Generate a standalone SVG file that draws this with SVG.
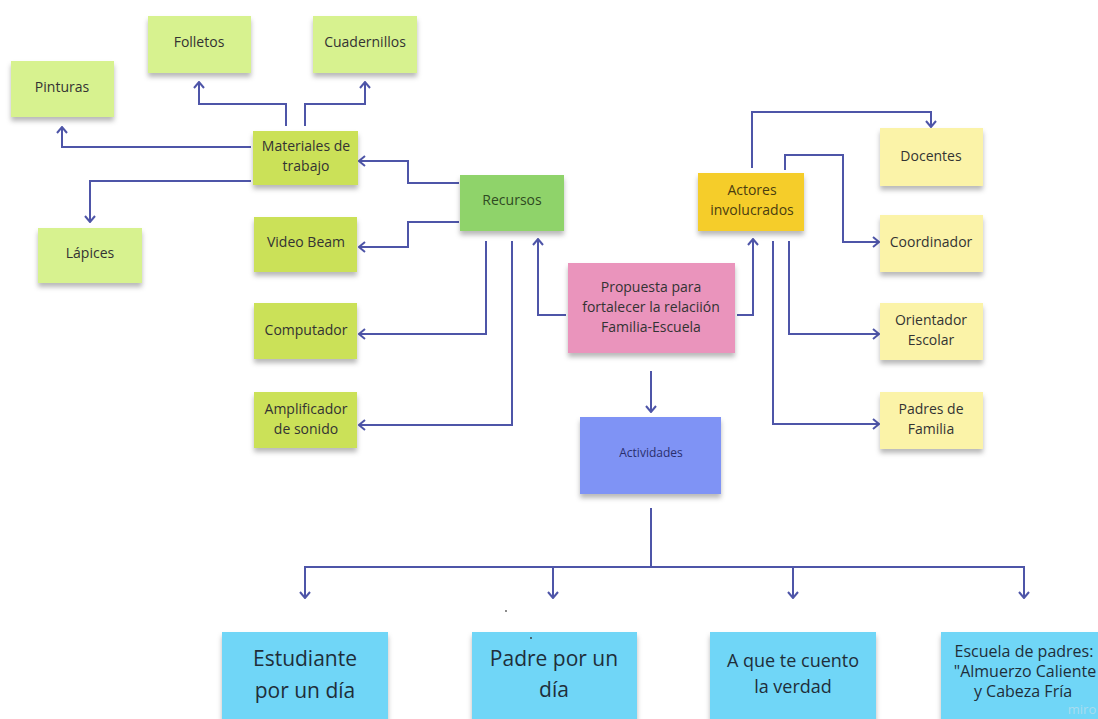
<svg xmlns="http://www.w3.org/2000/svg" width="1098" height="719" viewBox="0 0 1098 719">
<defs>
<filter id="sh" x="-10%" y="-10%" width="120%" height="140%">
<feDropShadow dx="0" dy="4" stdDeviation="2.5" flood-color="#000" flood-opacity="0.28"/>
</filter>
<marker id="ah" viewBox="0 0 10 12" refX="9" refY="6" markerWidth="10" markerHeight="12" markerUnits="userSpaceOnUse" orient="auto">
<path d="M3,1 L9,6 L3,11" fill="none" stroke="#4e55a8" stroke-width="2"/>
</marker>
</defs>
<style>
.n{filter:url(#sh)}
.lg{fill:#d7f28f}
.lm{fill:#cbe158}
.gr{fill:#8fd36b}
.ye{fill:#f5cd2a}
.ly{fill:#fbf3a8}
.pk{fill:#ea94bc}
.bl{fill:#7f93f5}
.cy{fill:#6fd6f7}
text{font-family:"Open Sans","Liberation Sans",sans-serif;font-size:14px;fill:#333;text-anchor:middle}
.big{font-size:21px;fill:#1f2e3a}
.mid{font-size:18px;fill:#1f2e3a}
.sm{font-size:16px;fill:#1f2e3a}
.c path{fill:none;stroke:#4e55a8;stroke-width:2}
</style>
<rect width="1098" height="719" fill="#fff"/>
<g class="c" id="connectors">
<path d="M286,126 V104 H199 V82" marker-end="url(#ah)"/>
<path d="M305,126 V104 H365 V82" marker-end="url(#ah)"/>
<path d="M251,147 H62 V127" marker-end="url(#ah)"/>
<path d="M251,181 H90 V222" marker-end="url(#ah)"/>
<path d="M459,183 H408 V161 H359" marker-end="url(#ah)"/>
<path d="M459,222 H408 V247 H359" marker-end="url(#ah)"/>
<path d="M486,241 V334 H359" marker-end="url(#ah)"/>
<path d="M512,241 V425 H359" marker-end="url(#ah)"/>
<path d="M566,315 H538 V239" marker-end="url(#ah)"/>
<path d="M737,315 H753 V239" marker-end="url(#ah)"/>
<path d="M752,168 V112 H931 V127" marker-end="url(#ah)"/>
<path d="M785,170 V155 H843 V242 H879" marker-end="url(#ah)"/>
<path d="M789,241 V334 H879" marker-end="url(#ah)"/>
<path d="M773,241 V424 H879" marker-end="url(#ah)"/>
<path d="M651,371 V412" marker-end="url(#ah)"/>
<path d="M651,508 V567"/>
<path d="M305,598 V567 H1024 V598" marker-end="url(#ah)"/>
<path d="M305,567 V598" marker-end="url(#ah)"/>
<path d="M553,567 V598" marker-end="url(#ah)"/>
<path d="M793,567 V598" marker-end="url(#ah)"/>
</g>
<g id="folletos"><rect class="n lg" x="148" y="16" width="103" height="57"/><text x="199" y="47">Folletos</text></g>
<g id="cuadernillos"><rect class="n lg" x="313" y="16" width="104" height="57"/><text x="365" y="47">Cuadernillos</text></g>
<g id="pinturas"><rect class="n lg" x="11" y="61" width="103" height="56"/><text x="62" y="92">Pinturas</text></g>
<g id="materiales"><rect class="n lm" x="253" y="131" width="105" height="54"/><text x="306" y="151">Materiales de</text><text x="306" y="171">trabajo</text></g>
<g id="lapices"><rect class="n lg" x="38" y="228" width="104" height="55"/><text x="90" y="258">Lápices</text></g>
<g id="videobeam"><rect class="n lm" x="254" y="217" width="103" height="55"/><text x="306" y="247">Video Beam</text></g>
<g id="computador"><rect class="n lm" x="254" y="303" width="103" height="56"/><text x="306" y="335">Computador</text></g>
<g id="amplificador"><rect class="n lm" x="254" y="392" width="103" height="56"/><text x="306" y="414">Amplificador</text><text x="306" y="434">de sonido</text></g>
<g id="recursos"><rect class="n gr" x="460" y="175" width="104" height="56"/><text x="512" y="205" style="fill:#2f4a22">Recursos</text></g>
<g id="propuesta"><rect class="n pk" x="568" y="263" width="167" height="90"/><text x="651" y="292">Propuesta para</text><text x="651" y="312">fortalecer la relaciión</text><text x="651" y="332">Familia-Escuela</text></g>
<g id="actores"><rect class="n ye" x="698" y="173" width="106" height="58"/><text x="752" y="195" style="fill:#4a3d10">Actores</text><text x="752" y="215" style="fill:#4a3d10">involucrados</text></g>
<g id="docentes"><rect class="n ly" x="880" y="128" width="103" height="58"/><text x="931" y="161">Docentes</text></g>
<g id="coordinador"><rect class="n ly" x="880" y="215" width="103" height="57"/><text x="931" y="247">Coordinador</text></g>
<g id="orientador"><rect class="n ly" x="880" y="303" width="103" height="57"/><text x="931" y="325">Orientador</text><text x="931" y="345">Escolar</text></g>
<g id="padres"><rect class="n ly" x="880" y="392" width="103" height="57"/><text x="931" y="414">Padres de</text><text x="931" y="434">Familia</text></g>
<g id="actividades"><rect class="n bl" x="580" y="417" width="141" height="77"/><text x="651" y="457" style="font-size:12px;fill:#2a2f6e">Actividades</text></g>
<g id="estudiante"><rect class="n cy" x="222" y="632" width="166" height="92"/><text class="big" x="305" y="666">Estudiante</text><text class="big" x="305" y="698">por un día</text></g>
<g id="padre"><rect class="n cy" x="472" y="632" width="165" height="92"/><text class="big" x="554" y="666">Padre por un</text><text class="big" x="554" y="697">día</text></g>
<g id="cuento"><rect class="n cy" x="710" y="632" width="166" height="92"/><text class="mid" x="793" y="667">A que te cuento</text><text class="mid" x="793" y="693">la verdad</text></g>
<g id="escuela"><rect class="n cy" x="941" y="632" width="170" height="92"/><text class="sm" x="1024" y="657">Escuela de padres:</text><text class="sm" x="1025" y="677">"Almuerzo Caliente</text><text class="sm" x="1023" y="697">y Cabeza Fría</text></g>
<text x="1082" y="714" style="font-size:13px;fill:#a9dcef">miro</text>
<circle cx="506" cy="611" r="0.9" fill="#555"/>
<circle cx="531" cy="638" r="0.9" fill="#333"/>
</svg>
